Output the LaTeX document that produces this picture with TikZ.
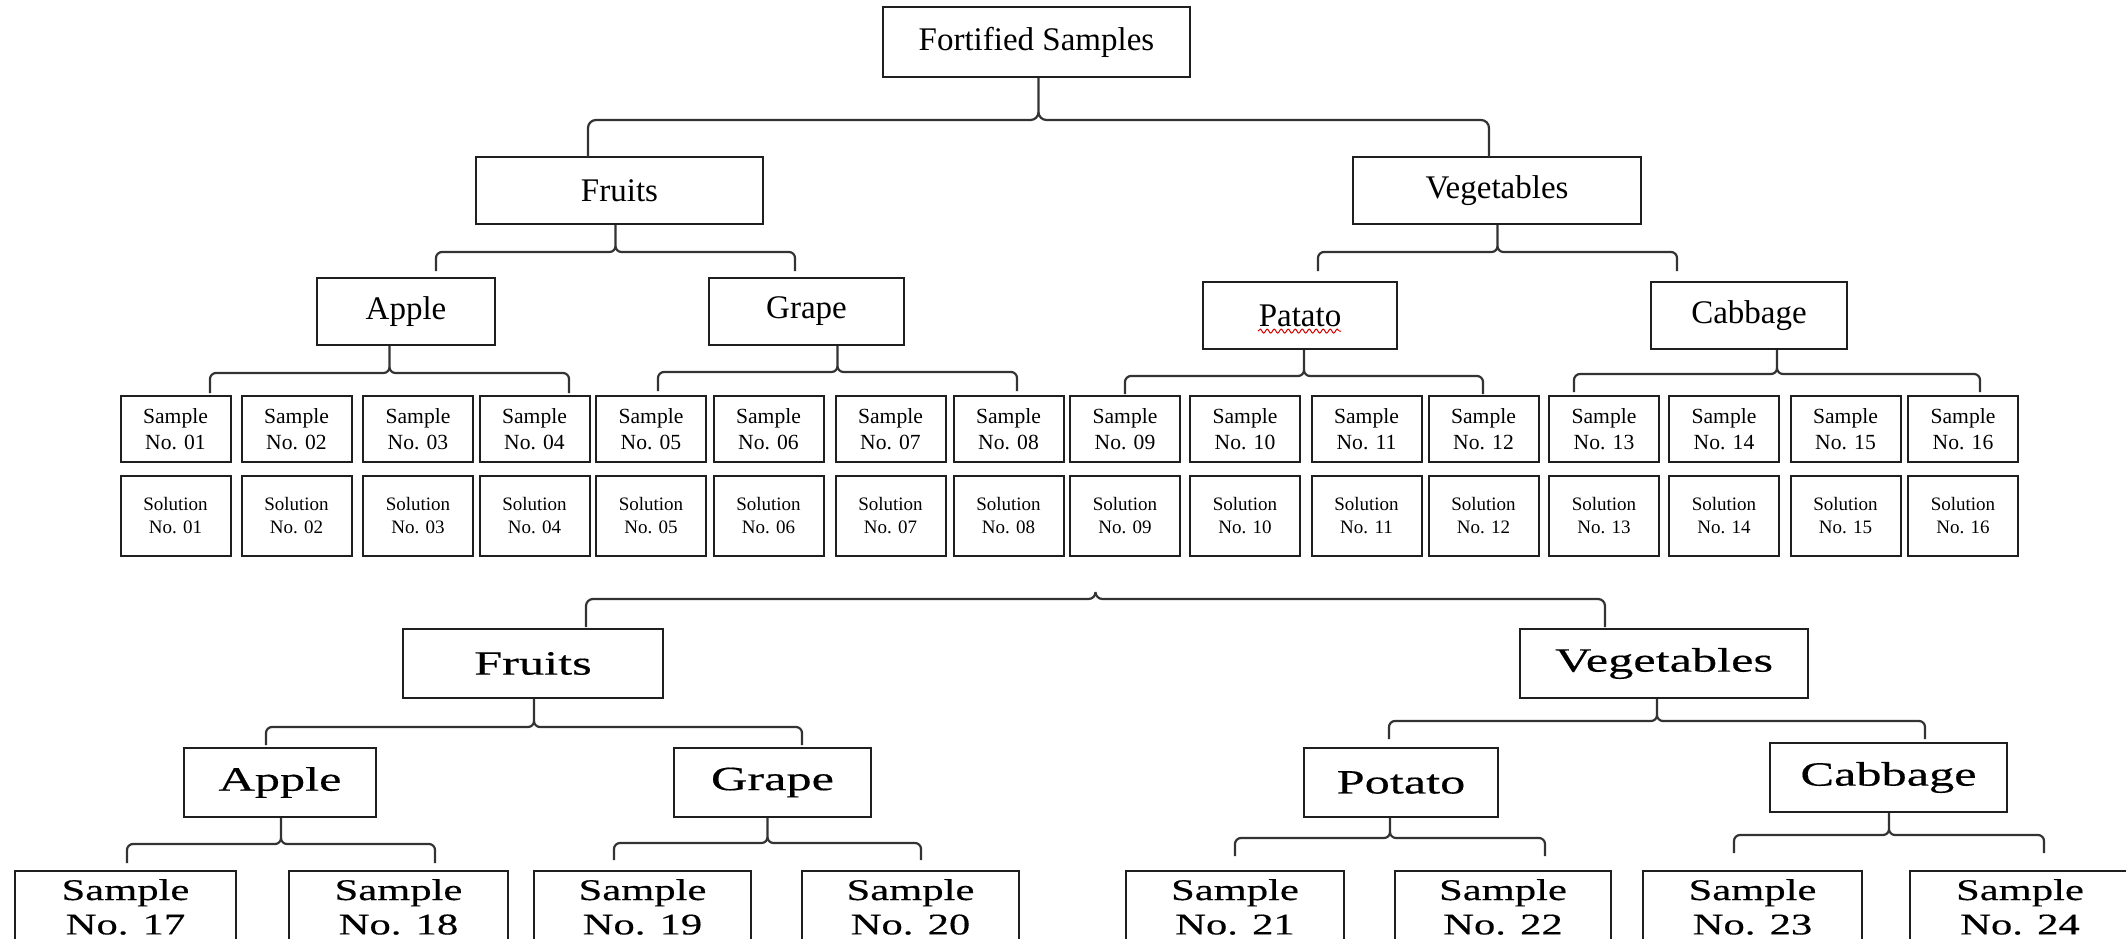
\documentclass[tikz,border=0pt]{standalone}
\usepackage{fontspec}
\setmainfont{Liberation Serif}
\newfontfamily\widefont[FakeStretch=1.42,FakeBold=0.4]{Liberation Serif}
\newfontfamily\wideheadfont[FakeStretch=1.48,FakeBold=0.4]{Liberation Serif}
\usetikzlibrary{decorations.pathmorphing}

\tikzset{
  box/.style={draw=black!88, line width=1pt, inner sep=0pt, align=center, fill=white},
  sz/.style 2 args={minimum width={#1*0.5pt}, minimum height={#2*0.5pt}},
  head/.style={box, font=\fontsize{16.5}{19}\selectfont},
  samp/.style={box, sz={110}{66}, font=\fontsize{10.8}{13.3}\selectfont},
  soln/.style={box, sz={110}{80}, font=\fontsize{9.5}{11.5}\selectfont},
  bhead/.style={box, font=\wideheadfont\fontsize{17}{19}\selectfont},
  bsamp/.style={box, sz={#1}{72}, font=\widefont\fontsize{15}{17.2}\selectfont},
  conn/.style={draw=black!80, line width=1.1pt},
  squiggle/.style={draw=red!85!black, line width=0.5pt, decorate,
    decoration={snake, amplitude=1pt, segment length=3.5pt}},
}

% Bracket from a parent anchor down to two end points:
% #1 parent anchor, #2 left x, #3 right x, #4 bar y, #5 end y, #6 corner size
\newcommand\treebrace[6]{%
  \pgfmathsetmacro\bxm{(#2+#3)/2}%
  \pgfmathsetmacro\bxa{\bxm-#6}%
  \pgfmathsetmacro\bxb{\bxm+#6}%
  \pgfmathsetmacro\byc{#4-#6}%
  \pgfmathsetmacro\byd{#4+#6}%
  \pgfmathsetmacro\bla{#2+#6}%
  \pgfmathsetmacro\brb{#3-#6}%
  \coordinate (bm) at (\bxm,#4);
  \draw[conn] (#2,#5) -- (#2,\byd) to[out=90,in=180] (\bla,#4)
    -- (\bxa,#4) to[out=0,in=-90] (\bxm,\byc) -- (bm |- #1)
    (\bxm,\byc) to[out=-90,in=180] (\bxb,#4)
    -- (\brb,#4) to[out=0,in=90] (#3,\byd) -- (#3,#5);
}

\begin{document}
\begin{tikzpicture}[x=0.5pt, y=-0.5pt]
  \fill[white, use as bounding box] (0,0) rectangle (2126,938);
  \clip (0,0) rectangle (2126,938);

  % ---------- upper tree ----------
  \node[head, sz={307}{70}] (fort) at (1036.5,42) {Fortified Samples};
  \node[head, sz={287}{67}] (fruitsA) at (619.5,190.5) {Fruits};
  \node[head, sz={288}{67}] (vegA) at (1497,190.5) {Vegetables};
  \node[head, sz={178}{67}] (appleA) at (406,311.5) {Apple};
  \node[head, sz={195}{67}] (grapeA) at (806.5,311.5) {Grape};
  \node[head, sz={194}{67}] (patatoA) at (1300,315.5) {Patato};
  \node[head, sz={196}{67}] (cabbageA) at (1749,315.5) {Cabbage};

  \draw[squiggle] ([xshift=-21pt,yshift=-7.8pt]patatoA.center)
    -- ([xshift=20.5pt,yshift=-7.8pt]patatoA.center);

  \foreach \i/\x in {01/175.5, 02/296.5, 03/418, 04/534.5, 05/651, 06/768.5,
                     07/890.5, 08/1008.5, 09/1125, 10/1245, 11/1366.5, 12/1483.5,
                     13/1604, 14/1724, 15/1845.5, 16/1963} {
    \node[samp] (s\i) at (\x,429) {Sample\\No. \i};
    \node[soln] (sol\i) at (\x,516) {Solution\\No. \i};
  }

  \treebrace{fort.south}{588}{1489}{120}{157}{8}
  \treebrace{fruitsA.south}{436}{795}{252}{271}{6}
  \treebrace{vegA.south}{1318}{1677}{252}{271}{6}
  \treebrace{appleA.south}{210}{569}{373}{393}{6}
  \treebrace{grapeA.south}{658}{1017}{372}{391}{6}
  \treebrace{patatoA.south}{1125}{1483}{376}{394}{6}
  \treebrace{cabbageA.south}{1574}{1980}{374}{392}{6}

  % ---------- lower tree ----------
  \coordinate (mtip) at (1096,592);
  \treebrace{mtip}{586}{1605}{599}{627}{7}

  \node[bhead, sz={260}{69}] (fruitsB) at (533,663.5) {Fruits};
  \node[bhead, sz={288}{69}] (vegB) at (1664,663.5) {Vegetables};
  \node[bhead, sz={192}{69}] (appleB) at (280,782.5) {Apple};
  \node[bhead, sz={197}{69}] (grapeB) at (772.5,782.5) {Grape};
  \node[bhead, sz={194}{69}] (potatoB) at (1401,782.5) {Potato};
  \node[bhead, sz={237}{69}] (cabbageB) at (1888.5,777.5) {Cabbage};

  \treebrace{fruitsB.south}{266}{802}{727}{745}{6}
  \treebrace{vegB.south}{1389}{1925}{721}{739}{6}
  \treebrace{appleB.south}{127}{435}{844}{863}{6}
  \treebrace{grapeB.south}{614}{921}{843}{860}{6}
  \treebrace{potatoB.south}{1235}{1545}{838}{856}{6}
  \treebrace{cabbageB.south}{1734}{2044}{835}{853}{6}

  \foreach \i/\x/\w in {17/125.5/221, 18/398.5/219, 19/642.5/217, 20/910.5/217,
                        21/1235/218, 22/1503/216, 23/1752.5/219, 24/2020/220} {
    \node[bsamp=\w] (s\i) at (\x,907) {Sample\\No. \i};
  }
\end{tikzpicture}
\end{document}
